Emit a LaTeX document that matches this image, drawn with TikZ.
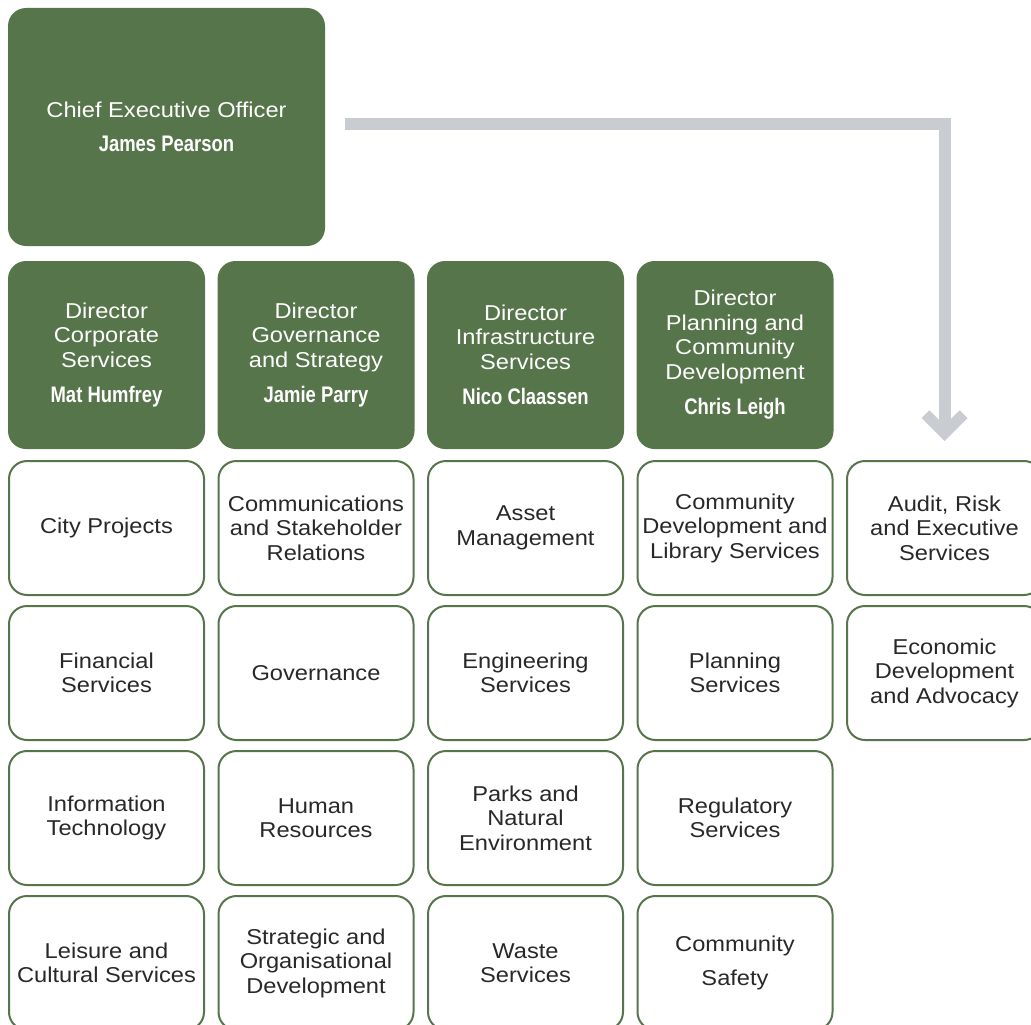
\documentclass[tikz,border=0pt]{standalone}
\usepackage{fontspec}
\setmainfont{Liberation Sans}[FakeStretch=1.1]
\newfontfamily\namefont{Liberation Sans}[FakeStretch=0.82]
\usetikzlibrary{positioning}
\usetikzlibrary{arrows.meta}

\definecolor{council}{RGB}{87,117,75}
\definecolor{linkgrey}{RGB}{201,204,208}
\definecolor{unittext}{RGB}{40,40,40}

\begin{document}
\begin{tikzpicture}[x=1pt, y=-1pt,
    head/.style={fill=council, rounded corners=18pt, text=white, align=center,
                 font=\fontsize{21.5}{24.5}\selectfont},
    unit/.style={draw=council, line width=2pt, rounded corners=18pt, text=unittext, align=center,
                 minimum width=195pt, minimum height=134pt, font=\fontsize{21.5}{24.5}\selectfont},
    feed/.style={linkgrey, line width=12pt, line join=miter,
                 -{Straight Barb[length=19pt, width=38pt, line width=11pt]}}
  ]

  \useasboundingbox (0,0) rectangle (1031,1025);

  \def\dx{209.5};
  \def\dy{145};
  \def\xo{106.5};
  \def\yo{528};

 %chief executive
  \node[head, minimum width=317pt, minimum height=238pt] (ceo) at (166.5,127)
      {Chief Executive Officer\\[9pt]{\namefont\bfseries\fontsize{22.5}{26}\selectfont James Pearson}};

 %directors
  \foreach \i/\txt/\who/\name in {0/{Director\\Corporate\\Services}/{Mat Humfrey}/dcs,
                                  1/{Director\\Governance\\and Strategy}/{Jamie Parry}/dgs,
                                  2/{Director\\Infrastructure\\Services}/{Nico Claassen}/dis,
                                  3/{Director\\Planning and\\Community\\Development}/{Chris Leigh}/dpcd} {
      \node[head, minimum width=197pt, minimum height=188pt] (\name) at (\i*\dx+\xo, 355)
          {\txt\\[11pt]{\namefont\bfseries\fontsize{22.5}{26}\selectfont \who}};
  }

 %column 1
  \foreach \j/\txt/\name in {0/{City Projects}/cp, 1/{Financial\\Services}/fs,
                             2/{Information\\Technology}/it, 3/{Leisure and\\Cultural Services}/lcs} {
      \node[unit] (\name) at (0*\dx+\xo, \j*\dy+\yo) {\txt};
  }

 %column 2
  \foreach \j/\txt/\name in {0/{Communications\\and Stakeholder\\Relations}/csr, 1/{Governance}/gov,
                             2/{Human\\Resources}/hr, 3/{Strategic and\\Organisational\\Development}/sod} {
      \node[unit] (\name) at (1*\dx+\xo, \j*\dy+\yo) {\txt};
  }

 %column 3
  \foreach \j/\txt/\name in {0/{Asset\\Management}/am, 1/{Engineering\\Services}/es,
                             2/{Parks and\\Natural\\Environment}/pne, 3/{Waste\\Services}/ws} {
      \node[unit] (\name) at (2*\dx+\xo, \j*\dy+\yo) {\txt};
  }

 %column 4
  \foreach \j/\txt/\name in {0/{Community\\Development and\\Library Services}/cdls, 1/{Planning\\Services}/ps,
                             2/{Regulatory\\Services}/rs, 3/{Community\\[10pt]Safety}/cs} {
      \node[unit] (\name) at (3*\dx+\xo, \j*\dy+\yo) {\txt};
  }

 %column 5
  \foreach \j/\txt/\name in {0/{Audit, Risk\\and Executive\\Services}/ares, 1/{Economic\\Development\\and Advocacy}/eda} {
      \node[unit] (\name) at (4*\dx+\xo, \j*\dy+\yo) {\txt};
  }

 %ceo -> audit
  \draw[feed, shorten <=20pt, shorten >=19pt] ([yshift=3pt]ceo.east) -| (ares.north);

\end{tikzpicture}
\end{document}
